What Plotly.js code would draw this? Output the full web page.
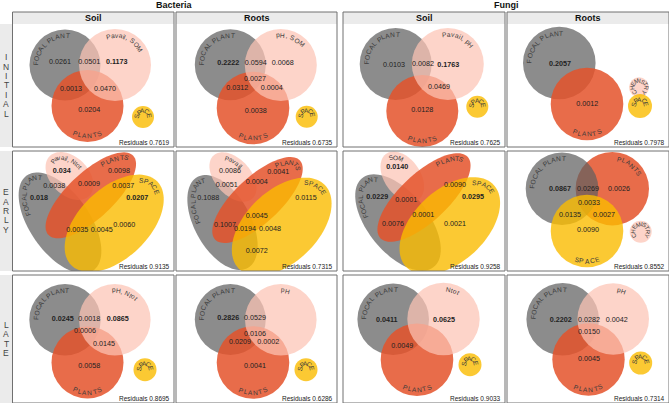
<!DOCTYPE html>
<html><head><meta charset="utf-8">
<script src="https://cdn.plot.ly/plotly-3.0.1.min.js"></script>
<style>html,body{margin:0;padding:0;background:#fff}#chart{width:669px;height:403px}</style>
</head><body><div id="chart"></div>
<script>
// ================= DATA =================
const kingdoms = ['Bacteria', 'Fungi'];
const compartments = ['Soil', 'Roots'];
const stages = ['INITIAL', 'EARLY', 'LATE'];
// column order: Bacteria-Soil, Bacteria-Roots, Fungi-Soil, Fungi-Roots
const residualsInitial = [0.7619, 0.6735, 0.7625, 0.7978];
const residualsEarly   = [0.9135, 0.7315, 0.9258, 0.8552];
const residualsLate    = [0.8695, 0.6286, 0.9033, 0.7314];
const chemistryLabels = [
  'Pavail, SOM', 'pH, SOM', 'Pavail, pH', 'CHEMISTRY',
  'Pavail, Ntot', 'Pavail', 'SOM', 'CHEMISTRY',
  'pH, Ntot', 'pH', 'Ntot', 'pH'];
// variance fractions shown in each Venn region (text exactly as printed)
const bacSoilInitial  = ['0.0261','0.0501','0.1173','0.0013','0.0470','0.0204'];
const bacRootsInitial = ['0.2222','0.0594','0.0068','0.0027','0.0312','0.0004','0.0038'];
const funSoilInitial  = ['0.0103','0.0082','0.1763','0.0469','0.0128'];
const funRootsInitial = ['0.2057','0.0012'];
const bacSoilEarly    = ['0.034','0.0038','0.0009','0.0098','0.0037','0.0207','0.018','0.0035','0.0045','0.0060'];
const bacRootsEarly   = ['0.0086','0.0041','0.0051','0.0004','0.1088','0.0115','0.0045','0.1007','0.0194','0.0048','0.0072'];
const funSoilEarly    = ['0.0140','0.0090','0.0229','0.0001','0.0295','0.0001','0.0076','0.0021'];
const funRootsEarly   = ['0.0867','0.0269','0.0026','0.0033','0.0135','0.0027','0.0090'];
const bacSoilLate     = ['0.0245','0.0018','0.0865','0.0006','0.0145','0.0058'];
const bacRootsLate    = ['0.2826','0.0529','0.0106','0.0209','0.0002','0.0041'];
const funSoilLate     = ['0.0411','0.0625','0.0049'];
const funRootsLate    = ['0.2202','0.0282','0.0042','0.0150','0.0045'];
// indices of values printed in bold (significant fractions)
const boldInitial = [[2],[0],[2],[0]];
const boldEarly   = [[0,5,6],[],[0,2,4],[0]];
const boldLate    = [[0,2],[0],[0,1],[0]];

const panelValues = [bacSoilInitial, bacRootsInitial, funSoilInitial, funRootsInitial,
                     bacSoilEarly, bacRootsEarly, funSoilEarly, funRootsEarly,
                     bacSoilLate, bacRootsLate, funSoilLate, funRootsLate];
const panelBold = [...boldInitial, ...boldEarly, ...boldLate];
const panelResiduals = [...residualsInitial, ...residualsEarly, ...residualsLate];

// ================= GEOMETRY / STYLE =================
const W = 669, H = 403, D = Math.PI / 180;
const FONT = 'Liberation Sans, Arial, sans-serif';
const colX = [[12.5,174],[176,337],[343,505],[507,669]];
const rowY = [[24,147],[151,271],[275,403]];
const headerY = [12, 24];
const FILL = {focal:'rgba(95,95,95,0.72)', chem:'rgba(252,196,180,0.72)',
              plants:'rgba(228,82,42,0.85)', space:'rgba(250,188,0,0.8)'};
// set: [key, cx, cy, a, b, phi, labelTheta, dir, inset, fontSize, spacing]
const geo = [
 {sets:[['focal',52.5,41,35.5,35.5,0,-132,1,6.3,6.6,1.12],['plants',75,82,36,36,0,90,-1,6.3,6.6,1.12],
        ['chem',102.5,41,36,36,0,-68,1,6.3,6.6,1.1],['space',130.5,93,11,11,0,-90,1,4.6,6.5,0.98]],
  pos:[[47.5,38.3],[76.8,38.3],[104.2,38.3],[58.5,65],[92.5,65],[76.8,86]]},
 {sets:[['focal',54.3,40.7,35.5,35.5,0,-132,1,6.3,6.6,1.12],['plants',77,84,36.3,36.3,0,90,-1,6.3,6.6,1.12],
        ['chem',104.8,41,36,36,0,-70,1,6.3,6.6,1.1],['space',130.7,92.7,11,11,0,-90,1,4.6,6.5,0.98]],
  pos:[[52.3,39.3],[79.7,39.3],[106.7,39.3],[79,55.3],[61.3,64.7],[95.7,64.7],[79.7,87]]},
 {sets:[['focal',52.7,40,36,36,0,-132,1,6.3,6.6,1.12],['plants',79.3,87,36,36,0,90,-1,6.3,6.6,1.12],
        ['chem',104.8,40,36,36,0,-68,1,6.3,6.6,1.1],['space',134.3,82.7,11,11,0,-90,1,4.6,6.5,0.98]],
  pos:[[51,41.7],[80,40.3],[105.3,41.7],[96,63.3],[79.3,86]]},
 {sets:[['focal',52.3,39,36.3,36.3,0,-132,1,6.3,6.6,1.12],['plants',80,80,36.3,36.3,0,90,-1,6.3,6.6,1.12],
        ['chem',132,63.3,10,10,0,-90,1,3.2,6,1.0],['space',133,82,12,12,0,-90,1,5.2,6.5,0.98]],
  pos:[[53,40.3],[80.3,80.3]]},
 {sets:[['focal',47.5,72,58,30,55,-139,1,5.5,6.6,1.12],['chem',57,25,28,19,45,-100,1,5.5,6.4,1.05],
        ['plants',78.3,44.3,58,23,-43,-57,1,5.5,6.6,1.12],['space',101.7,72.3,60,35,-44,-47,1,5.5,6.6,1.12]],
  pos:[[49.2,20],[41.8,35.7],[76.5,33.3],[106.5,20.7],[110.8,35.7],[124.8,47.3],[26.5,47.3],[64.8,79],[89.2,79.7],[111.8,74]]},
 {sets:[['focal',46.5,71.5,52,28,61,-143,1,5.5,6.6,1.12],['chem',57,26,29,18,48,-88,1,5.5,6.4,1.05],
        ['plants',81.5,49,58,23,-43,-50,1,5.5,6.6,1.12],['space',105.7,75.7,60,36,-44,-50,1,5.5,6.6,1.12]],
  pos:[[54,20.7],[102.3,21.3],[50.7,34],[80.7,31.3],[32.3,47.7],[130,47.7],[80.7,65.7],[49,74.7],[69,78.3],[94,78.3],[80.7,100.7]]},
 {sets:[['focal',55,71.5,57,30,51,-143,1,5.5,6.6,1.12],['chem',59.3,25.7,28,18,55,-108,1,5.5,6.4,1.05],
        ['plants',81,46.5,59.6,24,-43,-56,1,5.5,6.6,1.12],['space',106.8,74.8,60,36,-43,-50,1,5.5,6.6,1.12]],
  pos:[[54.3,16.3],[112,34],[34.3,46.7],[63.3,49.7],[130,46.7],[80.3,64],[50,73.3],[112,73.3]]},
 {sets:[['plants',105.3,37.7,36.7,36.7,0,-53,1,6.3,6.6,1.12],['focal',55,37.7,36.3,36.3,0,-132,1,6.3,6.6,1.12],
        ['space',80,80,36.3,36.3,0,90,-1,6.3,6.6,1.12],['chem',133.7,80.7,11,11,0,-90,1,3.6,6,1.0]],
  pos:[[53,38.3],[81,38.3],[112,38.3],[82,52.3],[63,64],[97,64],[81,79.7]]},
 {sets:[['focal',52.5,44.7,35.7,35.7,0,-132,1,6.3,6.6,1.12],['plants',75,87.5,36,36,0,90,-1,6.3,6.6,1.12],
        ['chem',102.3,44.7,35.8,35.8,0,-70,1,6.3,6.6,1.1],['space',132.5,94.7,11.5,11.5,0,-90,1,5,6.5,0.98]],
  pos:[[50.2,44.7],[76.8,44.7],[105.2,44.7],[72.5,56.3],[91.5,69.7],[76.8,91.3]]},
 {sets:[['focal',54.3,44.5,35.5,35.5,0,-132,1,6.3,6.6,1.12],['plants',77,87.5,36.3,36.3,0,90,-1,6.3,6.6,1.12],
        ['chem',104.8,44.7,35.8,35.8,0,-80,1,6.3,6.6,1.1],['space',130,94.7,11.5,11.5,0,-90,1,5,6.5,0.98]],
  pos:[[52.3,43.7],[79,43.7],[79,59.7],[64,67],[92.3,67],[79,91.3]]},
 {sets:[['focal',50.2,44.2,35.8,35.8,0,-132,1,6.3,6.6,1.12],['plants',74,84.7,36.3,36.3,0,90,-1,6.3,6.6,1.12],
        ['chem',100.5,44,36.2,36.2,0,-72,1,6.3,6.6,1.1],['space',127,89.7,11.5,11.5,0,-90,1,5,6.5,0.98]],
  pos:[[43.7,45.3],[101,45.3],[59.3,71.3]]},
 {sets:[['focal',55.7,44.3,36.3,36.3,0,-132,1,6.3,6.6,1.12],['plants',81.5,84.5,36.2,36.2,0,90,-1,6.3,6.6,1.12],
        ['chem',106.2,44,35.8,35.8,0,-74,1,6.3,6.6,1.1],['space',133.7,88,11.5,11.5,0,-90,1,5,6.5,0.98]],
  pos:[[53.7,45.3],[82,45.3],[109.7,45.3],[82,57.3],[82,84.7]]}
];

// ================= HELPERS =================
const CW = {A:.667,B:.667,C:.722,D:.722,E:.667,F:.611,G:.778,H:.722,I:.278,J:.5,K:.667,L:.556,M:.833,N:.722,O:.778,P:.667,Q:.778,R:.722,S:.667,T:.611,U:.722,V:.667,W:.944,X:.667,Y:.667,Z:.611,
 a:.556,b:.556,c:.5,d:.556,e:.556,f:.278,g:.556,h:.556,i:.222,j:.222,k:.5,l:.222,m:.833,n:.556,o:.556,p:.556,q:.556,r:.333,s:.5,t:.278,u:.556,v:.5,w:.722,x:.5,y:.5,z:.5,' ':.3,',':.3};
const charW = ch => (CW[ch] || 0.6);
function pt(g,t){const c=Math.cos(g.phi*D),s=Math.sin(g.phi*D);const x=g.a*Math.cos(t),y=g.b*Math.sin(t);return [g.cx+c*x-s*y,g.cy+s*x+c*y];}
function der(g,t){const c=Math.cos(g.phi*D),s=Math.sin(g.phi*D);const x=-g.a*Math.sin(t),y=g.b*Math.cos(t);return [c*x-s*y,s*x+c*y];}
function walk(g,t,dist,dir){let acc=0;const dt=0.003*dir;let n=0;while(acc<dist&&n<20000){const d=der(g,t);acc+=Math.hypot(d[0],d[1])*Math.abs(dt);t+=dt;n++;}return t;}
function ellipsePath(g){let p='';for(let i=0;i<=96;i++){const q=pt(g,i/96*2*Math.PI);p+=(i?'L':'M')+q[0].toFixed(2)+','+q[1].toFixed(2);}return p+'Z';}

const traces = [], shapes = [], annotations = [];
const layout = {width:W, height:H, margin:{l:0,r:0,t:0,b:0}, paper_bgcolor:'#fff', plot_bgcolor:'rgba(0,0,0,0)',
  showlegend:false, font:{family:FONT}};

// strips, borders, headers (paper coords)
const px = x => x / W, py = y => 1 - y / H;
rowY.forEach(([y0,y1]) => shapes.push({type:'rect',xref:'paper',yref:'paper',x0:0,x1:px(12),y0:py(y1),y1:py(y0),fillcolor:'#ebebeb',line:{width:0},layer:'below'}));
colX.forEach(([x0,x1],c) => {
  shapes.push({type:'rect',xref:'paper',yref:'paper',x0:px(x0),x1:px(x1),y0:py(headerY[1]),y1:py(headerY[0]),fillcolor:'#ebebeb',line:{width:0},layer:'below'});
  annotations.push({xref:'paper',yref:'paper',x:px((x0+x1)/2),y:py(18),text:'<b>'+compartments[c%2]+'</b>',showarrow:false,xanchor:'center',yanchor:'middle',font:{size:9,color:'#111',family:FONT}});
  rowY.forEach(([y0,y1],r) => shapes.push({type:'rect',xref:'paper',yref:'paper',x0:px(x0),x1:px(x1),y0:py(y1),y1:py(r===0?headerY[0]:y0),line:{color:'#707070',width:1},fillcolor:'rgba(0,0,0,0)',layer:'above'}));
});
[[12.5,337],[343,669]].forEach(([x0,x1],i) => annotations.push({xref:'paper',yref:'paper',x:px((x0+x1)/2),y:py(5.5),text:'<b>'+kingdoms[i]+'</b>',showarrow:false,xanchor:'center',yanchor:'middle',font:{size:9,color:'#111',family:FONT}}));
stages.forEach((s,r) => {
  const yc = (rowY[r][0]+rowY[r][1])/2, n = s.length, gap = 9.4;
  [...s].forEach((ch,i) => annotations.push({xref:'paper',yref:'paper',x:px(6),y:py(yc+(i-(n-1)/2)*gap),text:ch,showarrow:false,xanchor:'center',yanchor:'middle',font:{size:8.5,color:'#444',family:FONT}}));
});

// panels
geo.forEach((pg,p) => {
  const r = Math.floor(p/4), c = p%4, k = p+1, sfx = k===1?'':String(k);
  const [x0,x1] = colX[c], [y0,y1] = rowY[r], w = x1-x0, h = y1-y0;
  layout['xaxis'+sfx] = {domain:[px(x0),px(x1)], range:[0,w], visible:false, fixedrange:true, anchor:'y'+sfx};
  layout['yaxis'+sfx] = {domain:[py(y1),py(y0)], range:[h,0], visible:false, fixedrange:true, anchor:'x'+sfx};
  const xr = 'x'+sfx, yr = 'y'+sfx;
  pg.sets.forEach(s => {
    const [key,cx,cy,a,b,phi] = s;
    const g = {cx,cy,a,b,phi};
    if (a===b) shapes.push({type:'circle',xref:xr,yref:yr,x0:cx-a,x1:cx+a,y0:cy-a,y1:cy+a,fillcolor:FILL[key],line:{width:0},layer:'below'});
    else shapes.push({type:'path',xref:xr,yref:yr,path:ellipsePath(g),fillcolor:FILL[key],line:{width:0},layer:'below'});
  });
  pg.sets.forEach(s => {
    const [key,cx,cy,a,b,phi,theta,dir,inset,fs,sp] = s;
    const text = key==='chem' ? chemistryLabels[p] : key==='focal' ? 'FOCAL PLANT' : key==='plants' ? 'PLANTS' : 'SPACE';
    const gi = {cx,cy,a:a-inset,b:b-inset,phi};
    const rel = (theta-phi)*D;
    let t = Math.atan2(gi.a*Math.sin(rel), gi.b*Math.cos(rel));
    const chars = [...text], ws = chars.map(ch => charW(ch)*fs*sp);
    const total = ws.reduce((u,v)=>u+v,0);
    t = walk(gi,t,total/2,-dir);
    chars.forEach((ch,i) => {
      t = walk(gi,t,ws[i]/2,dir);
      if (ch !== ' ') {
        const q = pt(gi,t), d = der(gi,t);
        annotations.push({xref:xr,yref:yr,x:q[0],y:q[1],text:ch,textangle:Math.atan2(dir*d[1],dir*d[0])/D,
          showarrow:false,xanchor:'center',yanchor:'middle',borderpad:0,font:{size:fs,color:'#3a3a3a',family:FONT}});
      }
      t = walk(gi,t,ws[i]/2,dir);
    });
  });
  const vals = panelValues[p], bold = panelBold[p];
  traces.push({type:'scatter',mode:'text',xaxis:xr,yaxis:yr,x:pg.pos.map(q=>q[0]),y:pg.pos.map(q=>q[1]),
    text:vals.map((v,i)=>bold.includes(i)?'<b>'+v+'</b>':v),textposition:'middle center',
    textfont:{size:7.2,color:'#222',family:FONT},hoverinfo:'skip',cliponaxis:false,showlegend:false});
  annotations.push({xref:xr,yref:yr,x:w-2,y:h-5,text:'Residuals '+panelResiduals[p].toFixed(4),showarrow:false,
    xanchor:'right',yanchor:'middle',font:{size:6.5,color:'#222',family:FONT}});
});
layout.shapes = shapes;
layout.annotations = annotations;
Plotly.newPlot('chart', traces, layout, {staticPlot:true, displayModeBar:false});
</script></body></html>
